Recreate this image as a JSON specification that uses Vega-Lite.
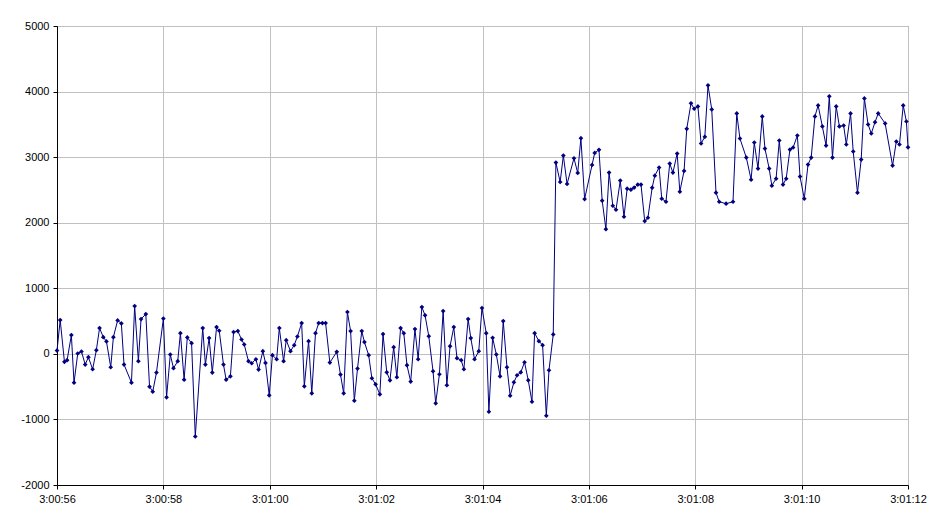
{
  "$schema": "https://vega.github.io/schema/vega-lite/v6.json",
  "width": 851,
  "height": 459,
  "autosize": "none",
  "padding": {"left": 57, "top": 26, "right": 38, "bottom": 46},
  "background": "white",
  "config": {
    "view": {"stroke": "#808080", "strokeWidth": 1},
    "font": "Liberation Sans",
    "axis": {
      "labelFont": "Liberation Sans",
      "labelFontSize": 11,
      "labelColor": "black",
      "domainColor": "black",
      "tickColor": "black",
      "tickSize": 4,
      "gridColor": "#C0C0C0",
      "gridOpacity": 1,
      "gridWidth": 1,
      "title": null
    }
  },
  "data": {
    "values": [
      {"t": 0.00, "v": 50}, {"t": 0.06, "v": 515}, {"t": 0.14, "v": -122}, {"t": 0.19, "v": -97},
      {"t": 0.27, "v": 286}, {"t": 0.32, "v": -439}, {"t": 0.39, "v": 5}, {"t": 0.46, "v": 36},
      {"t": 0.53, "v": -163}, {"t": 0.59, "v": -51}, {"t": 0.67, "v": -235}, {"t": 0.74, "v": 56},
      {"t": 0.80, "v": 393}, {"t": 0.87, "v": 255}, {"t": 0.93, "v": 189}, {"t": 1.01, "v": -204},
      {"t": 1.06, "v": 255}, {"t": 1.14, "v": 510}, {"t": 1.21, "v": 464}, {"t": 1.26, "v": -163},
      {"t": 1.40, "v": -439}, {"t": 1.46, "v": 729}, {"t": 1.53, "v": -112}, {"t": 1.58, "v": 530},
      {"t": 1.67, "v": 607}, {"t": 1.74, "v": -500}, {"t": 1.80, "v": -576}, {"t": 1.87, "v": -286},
      {"t": 2.00, "v": 538}, {"t": 2.06, "v": -663}, {"t": 2.13, "v": -10}, {"t": 2.19, "v": -219},
      {"t": 2.27, "v": -112}, {"t": 2.32, "v": 316}, {"t": 2.39, "v": -393}, {"t": 2.45, "v": 250},
      {"t": 2.53, "v": 163}, {"t": 2.60, "v": -1260}, {"t": 2.74, "v": 393}, {"t": 2.79, "v": -163},
      {"t": 2.86, "v": 240}, {"t": 2.92, "v": -286}, {"t": 3.00, "v": 408}, {"t": 3.05, "v": 352},
      {"t": 3.13, "v": -163}, {"t": 3.18, "v": -393}, {"t": 3.26, "v": -342}, {"t": 3.32, "v": 332},
      {"t": 3.40, "v": 347}, {"t": 3.47, "v": 219}, {"t": 3.52, "v": 143}, {"t": 3.60, "v": -112},
      {"t": 3.66, "v": -143}, {"t": 3.74, "v": -82}, {"t": 3.79, "v": -240}, {"t": 3.87, "v": 41},
      {"t": 3.92, "v": -138}, {"t": 3.99, "v": -632}, {"t": 4.05, "v": -20}, {"t": 4.13, "v": -82},
      {"t": 4.18, "v": 393}, {"t": 4.26, "v": -112}, {"t": 4.31, "v": 209}, {"t": 4.39, "v": 41},
      {"t": 4.46, "v": 133}, {"t": 4.52, "v": 265}, {"t": 4.60, "v": 469}, {"t": 4.65, "v": -495},
      {"t": 4.73, "v": 194}, {"t": 4.79, "v": -602}, {"t": 4.86, "v": 316}, {"t": 4.92, "v": 469},
      {"t": 4.99, "v": 469}, {"t": 5.05, "v": 469}, {"t": 5.13, "v": -133}, {"t": 5.26, "v": 31},
      {"t": 5.33, "v": -316}, {"t": 5.39, "v": -602}, {"t": 5.46, "v": 638}, {"t": 5.52, "v": 347},
      {"t": 5.59, "v": -714}, {"t": 5.65, "v": -224}, {"t": 5.73, "v": 347}, {"t": 5.78, "v": 179},
      {"t": 5.86, "v": -20}, {"t": 5.92, "v": -372}, {"t": 5.99, "v": -464}, {"t": 6.07, "v": -617},
      {"t": 6.13, "v": 301}, {"t": 6.20, "v": -281}, {"t": 6.26, "v": -403}, {"t": 6.33, "v": 102},
      {"t": 6.39, "v": -357}, {"t": 6.46, "v": 393}, {"t": 6.52, "v": 316}, {"t": 6.58, "v": -173},
      {"t": 6.65, "v": -423}, {"t": 6.73, "v": 378}, {"t": 6.79, "v": -82}, {"t": 6.86, "v": 714},
      {"t": 6.92, "v": 587}, {"t": 6.99, "v": 270}, {"t": 7.07, "v": -265}, {"t": 7.12, "v": -755},
      {"t": 7.19, "v": -311}, {"t": 7.26, "v": 653}, {"t": 7.33, "v": -479}, {"t": 7.39, "v": 117},
      {"t": 7.46, "v": 408}, {"t": 7.52, "v": -66}, {"t": 7.60, "v": -97}, {"t": 7.65, "v": -235},
      {"t": 7.73, "v": 530}, {"t": 7.78, "v": 240}, {"t": 7.85, "v": -82}, {"t": 7.93, "v": 41},
      {"t": 7.99, "v": 699}, {"t": 8.07, "v": 316}, {"t": 8.12, "v": -883}, {"t": 8.19, "v": 245},
      {"t": 8.26, "v": -10}, {"t": 8.33, "v": -342}, {"t": 8.39, "v": 500}, {"t": 8.46, "v": -204},
      {"t": 8.52, "v": -638}, {"t": 8.59, "v": -434}, {"t": 8.65, "v": -326}, {"t": 8.72, "v": -281},
      {"t": 8.79, "v": -128}, {"t": 8.86, "v": -403}, {"t": 8.93, "v": -730}, {"t": 8.98, "v": 316},
      {"t": 9.06, "v": 194}, {"t": 9.13, "v": 133}, {"t": 9.20, "v": -944}, {"t": 9.25, "v": -250},
      {"t": 9.33, "v": 296}, {"t": 9.38, "v": 2917}, {"t": 9.46, "v": 2621}, {"t": 9.52, "v": 3024},
      {"t": 9.59, "v": 2591}, {"t": 9.72, "v": 2983}, {"t": 9.79, "v": 2759}, {"t": 9.85, "v": 3290},
      {"t": 9.92, "v": 2361}, {"t": 10.06, "v": 2882}, {"t": 10.11, "v": 3065}, {"t": 10.19, "v": 3111},
      {"t": 10.25, "v": 2336}, {"t": 10.32, "v": 1902}, {"t": 10.38, "v": 2764}, {"t": 10.45, "v": 2259},
      {"t": 10.51, "v": 2198}, {"t": 10.59, "v": 2642}, {"t": 10.66, "v": 2091}, {"t": 10.72, "v": 2519},
      {"t": 10.79, "v": 2504}, {"t": 10.85, "v": 2535}, {"t": 10.92, "v": 2581}, {"t": 10.98, "v": 2581},
      {"t": 11.05, "v": 2025}, {"t": 11.11, "v": 2076}, {"t": 11.19, "v": 2535}, {"t": 11.24, "v": 2718},
      {"t": 11.32, "v": 2841}, {"t": 11.37, "v": 2366}, {"t": 11.45, "v": 2320}, {"t": 11.52, "v": 2902},
      {"t": 11.58, "v": 2764}, {"t": 11.66, "v": 3055}, {"t": 11.71, "v": 2474}, {"t": 11.79, "v": 2790},
      {"t": 11.84, "v": 3432}, {"t": 11.92, "v": 3820}, {"t": 11.98, "v": 3738}, {"t": 12.05, "v": 3774},
      {"t": 12.11, "v": 3208}, {"t": 12.18, "v": 3310}, {"t": 12.24, "v": 4095}, {"t": 12.31, "v": 3728},
      {"t": 12.39, "v": 2458}, {"t": 12.45, "v": 2320}, {"t": 12.58, "v": 2290}, {"t": 12.71, "v": 2320},
      {"t": 12.78, "v": 3667}, {"t": 12.84, "v": 3284}, {"t": 12.96, "v": 2994}, {"t": 13.05, "v": 2657},
      {"t": 13.11, "v": 3223}, {"t": 13.18, "v": 2825}, {"t": 13.26, "v": 3621}, {"t": 13.31, "v": 3131},
      {"t": 13.39, "v": 2825}, {"t": 13.44, "v": 2565}, {"t": 13.52, "v": 2672}, {"t": 13.58, "v": 3254},
      {"t": 13.65, "v": 2581}, {"t": 13.71, "v": 2672}, {"t": 13.78, "v": 3116}, {"t": 13.84, "v": 3147},
      {"t": 13.92, "v": 3330}, {"t": 13.97, "v": 2703}, {"t": 14.05, "v": 2366}, {"t": 14.12, "v": 2887},
      {"t": 14.18, "v": 2994}, {"t": 14.25, "v": 3621}, {"t": 14.31, "v": 3789}, {"t": 14.39, "v": 3468},
      {"t": 14.46, "v": 3177}, {"t": 14.52, "v": 3927}, {"t": 14.58, "v": 2994}, {"t": 14.65, "v": 3774},
      {"t": 14.71, "v": 3468}, {"t": 14.79, "v": 3483}, {"t": 14.84, "v": 3193}, {"t": 14.92, "v": 3667},
      {"t": 14.97, "v": 3086}, {"t": 15.05, "v": 2458}, {"t": 15.12, "v": 2963}, {"t": 15.18, "v": 3896},
      {"t": 15.25, "v": 3498}, {"t": 15.31, "v": 3361}, {"t": 15.38, "v": 3534}, {"t": 15.44, "v": 3667},
      {"t": 15.57, "v": 3514}, {"t": 15.71, "v": 2871}, {"t": 15.78, "v": 3239}, {"t": 15.84, "v": 3193},
      {"t": 15.91, "v": 3789}, {"t": 15.97, "v": 3544}, {"t": 16.00, "v": 3150}
    ]
  },
  "mark": {
    "type": "line",
    "color": "#000080",
    "strokeWidth": 1,
    "point": {"filled": true, "shape": "diamond", "size": 22, "color": "#000080"}
  },
  "encoding": {
    "x": {
      "field": "t",
      "type": "quantitative",
      "scale": {"domain": [0, 16], "nice": false, "zero": false},
      "axis": {
        "values": [0, 2, 4, 6, 8, 10, 12, 14, 16],
        "labelExpr": "datum.value + 56 < 60 ? '3:00:' + (datum.value + 56) : '3:01:' + (datum.value - 4 < 10 ? '0' : '') + (datum.value - 4)",
        "labelPadding": 4,
        "labelFlush": false,
        "grid": true
      }
    },
    "y": {
      "field": "v",
      "type": "quantitative",
      "scale": {"domain": [-2000, 5000], "nice": false},
      "axis": {
        "values": [-2000, -1000, 0, 1000, 2000, 3000, 4000, 5000],
        "labelExpr": "'' + datum.value",
        "labelPadding": 4,
        "grid": true
      }
    }
  }
}
